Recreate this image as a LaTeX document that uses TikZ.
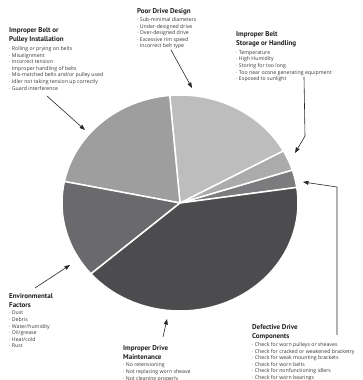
\documentclass[tikz,border=0pt]{standalone}
\usepackage{fontspec}
\setmainfont{PT Sans}
\newfontfamily\causefont{Open Sans}
\usetikzlibrary{positioning,arrows.meta}

\definecolor{defgray}{HTML}{7C7C7E}
\definecolor{storegray}{HTML}{ABABAB}
\definecolor{designgray}{HTML}{BDBDBD}
\definecolor{pulleygray}{HTML}{9E9E9E}
\definecolor{envgray}{HTML}{6A6A6C}
\definecolor{maintgray}{HTML}{4C4C4E}

\begin{document}
\begin{tikzpicture}[
  x = 1pt, y = 1pt,
  heading/.style = {anchor=north west, inner sep=0pt, align=left, text=black!88,
    font=\fontsize{7}{9.5}\selectfont\bfseries},
  causes/.style = {anchor=north west, inner sep=0pt, align=left, text=black!78,
    font=\causefont\fontsize{5.2}{6.6}\selectfont},
  pointer/.style = {draw=black!85, line width=0.6pt, -{Triangle[length=5.5pt,width=4pt]}},
  slice/.style = {draw=white, line width=1.5pt, line join=round}
]
\clip (0,0) rectangle (363,380);

% the pie
\coordinate (ctr) at (180,177);
\foreach \a/\b/\c in {8.3/17.8/defgray, 17.8/28.9/storegray, 28.9/95/designgray,
                      95/168.5/pulleygray, 168.5/221/envgray, 221/368.3/maintgray}
  \filldraw[slice, fill=\c] (ctr) -- ++(\a:118 and 108)
    arc[start angle=\a, end angle=\b, x radius=118, y radius=108] -- cycle;

% causes
\node[heading] (pulleyTitle) at (9,353) {Improper Belt or\\Pulley Installation};
\node[causes, below=3pt of pulleyTitle.south west, anchor=north west] (pulleyList)
  {· Rolling or prying on belts\\· Misalignment\\· Incorrect tension\\
   · Improper handling of belts\\· Mis-matched belts and/or pulley used\\
   · Idler not taking tension up correctly\\· Guard interference};

\node[heading] (designTitle) at (137,372) {Poor Drive Design};
\node[causes, below=2.5pt of designTitle.south west, anchor=north west] (designList)
  {· Sub-minimal diameters\\· Under-designed drive\\· Over-designed drive\\
   · Excessive rim speed\\· Incorrect belt type};

\node[heading] (storeTitle) at (236,349) {Improper Belt\\Storage or Handling};
\node[causes, below=3pt of storeTitle.south west, anchor=north west] (storeList)
  {· Temperature\\· High Humidity\\· Storing for too long\\
   · Too near ozone generating equipment\\· Exposed to sunlight};

\node[heading] (envTitle) at (9,87) {Environmental\\Factors};
\node[causes, below=3pt of envTitle.south west, anchor=north west] (envList)
  {· Dust\\· Debris\\· Water/humidity\\· Oil/grease\\· Heat/cold\\· Rust};

\node[heading] (maintTitle) at (123,35) {Improper Drive\\Maintenance};
\node[causes, below=3pt of maintTitle.south west, anchor=north west] (maintList)
  {· No retensioning\\· Not replacing worn sheave\\· Not cleaning properly};

\node[heading] (defTitle) at (252,56) {Defective Drive\\Components};
\node[causes, below=2pt of defTitle.south west, anchor=north west] (defList)
  {· Check for worn pulleys or sheaves\\· Check for cracked or weakened bracketry\\
   · Check for weak mounting brackets\\· Check for worn belts\\
   · Check for nonfunctioning idlers\\· Check for worn bearings};

% pointers
\coordinate (pulleyFrom) at (47,284);
\coordinate (pulleyTip) at (85,250);
\coordinate (designFrom) at (171,330);
\coordinate (designTip) at (192,292);
\coordinate (storeFrom) at (304,303);
\coordinate (storeBend) at (305,244);
\coordinate (storeTip) at (295,227);
\coordinate (envFrom) at (35,92);
\coordinate (envTip) at (70,115);
\coordinate (maintFrom) at (163,43);
\coordinate (maintTip) at (167,61);
\coordinate (defFrom) at (337,45);
\coordinate (defBend) at (337,193);
\coordinate (defTip) at (303,198);

\draw[pointer] (pulleyFrom) -- (pulleyTip);
\draw[pointer] (designFrom) -- (designTip);
\draw[pointer] (storeFrom) -- (storeBend) -- (storeTip);
\draw[pointer] (envFrom) -- (envTip);
\draw[pointer] (maintFrom) -- (maintTip);
\draw[pointer] (defFrom) -- (defBend) -- (defTip);

\end{tikzpicture}
\end{document}
